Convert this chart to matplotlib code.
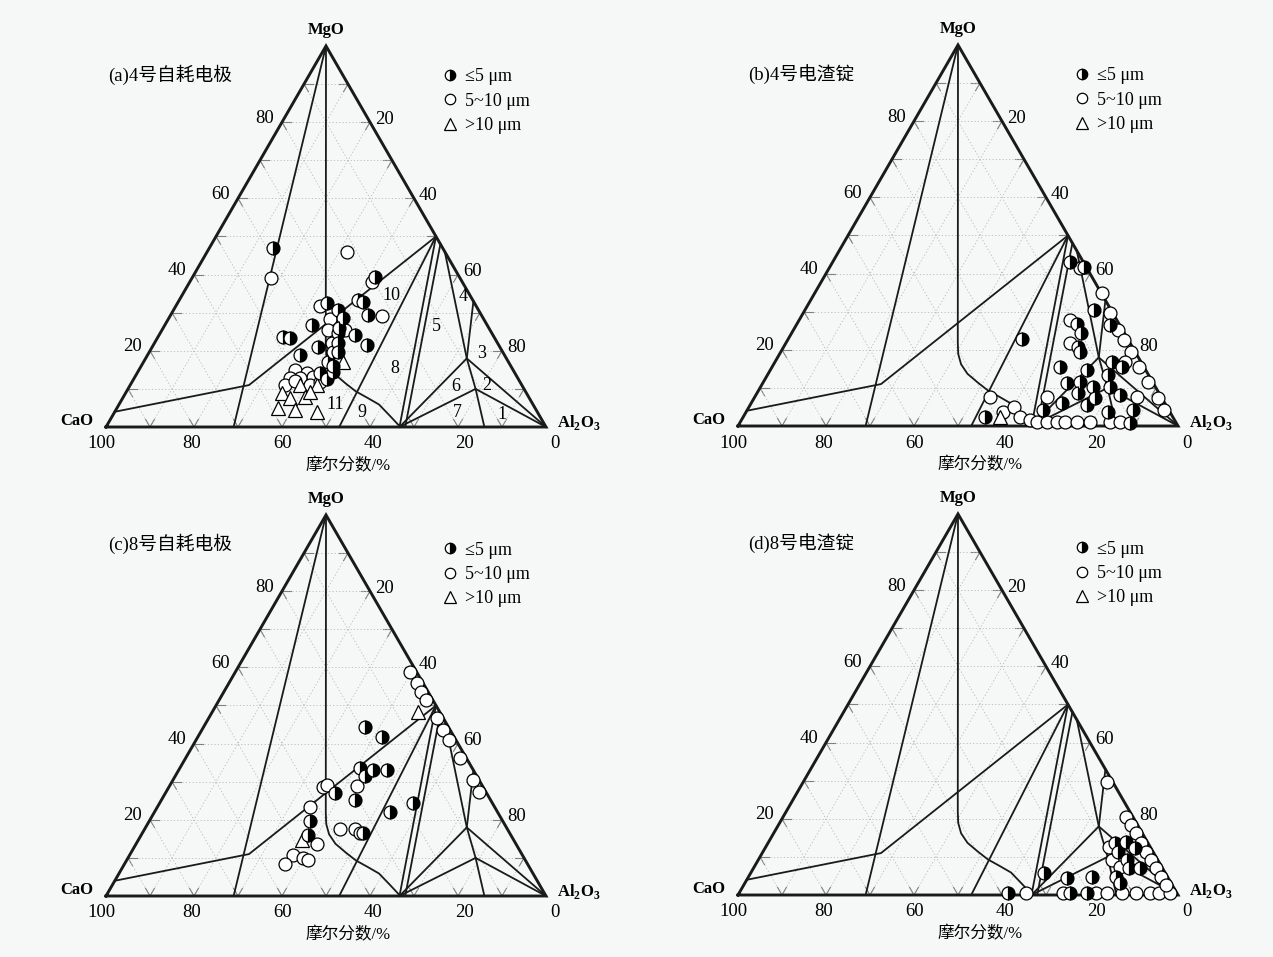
import numpy as np
import matplotlib
matplotlib.use("Agg")
import matplotlib.pyplot as plt
from matplotlib.lines import Line2D

plt.rcParams['font.family'] = ['Liberation Serif', 'Noto Sans CJK SC']
plt.rcParams['mathtext.fontset'] = 'custom'
plt.rcParams['mathtext.rm'] = 'Liberation Serif'
plt.rcParams['mathtext.bf'] = 'Liberation Serif:bold'

# ---- data: points are (MgO mol%, Al2O3 mol%), CaO = rest ----
a_half = [(46.9, 14.6), (39.4, 41.4), (32.6, 33.9), (33.3, 40.7), (32.9, 42.0),
          (30.7, 37.4), (28.5, 39.7), (24.1, 44.5), (29.4, 44.9), (26.8, 33.4),
          (23.7, 28.4), (23.3, 30.2), (21.5, 48.5), (21.1, 37.7), (19.8, 41.8),
          (18.9, 34.6), (17.1, 42.0), (14.5, 44.4), (14.1, 41.6), (24.6, 40.5),
          (22.0, 41.7), (19.7, 42.9), (26.0, 40.0), (16.0, 43.5), (12.5, 44.0)]
a_open = [(46.0, 31.7), (38.1, 41.3), (39.0, 17.9), (31.8, 32.7), (28.3, 36.8),
          (25.5, 41.6), (29.1, 48.1), (25.5, 37.8), (22.0, 40.3), (15.0, 35.5),
          (14.2, 38.6), (13.1, 40.4), (12.9, 37.7), (12.9, 35.4), (11.0, 35.2),
          (11.0, 40.9), (11.8, 42.7), (12.1, 37.0)]
a_tri = [(17.1, 45.3), (11.0, 42.4), (11.0, 38.6), (8.8, 35.5), (7.6, 38.0),
         (7.9, 41.3), (4.9, 36.7), (4.5, 40.8), (4.0, 45.9), (9.2, 41.8)]

b_half = [(43.1, 53.9), (41.6, 57.8), (30.4, 65.6), (22.8, 53.1), (26.7, 63.7),
          (24.3, 65.9), (20.8, 66.9), (19.5, 68.0), (26.5, 71.3), (15.6, 65.4),
          (14.7, 71.9), (16.9, 76.5), (15.6, 79.4), (13.4, 77.5), (11.2, 69.1),
          (11.6, 71.9), (10.3, 75.6), (8.6, 73.0), (6.0, 70.6), (5.5, 76.5),
          (7.3, 77.5), (8.1, 82.7), (4.2, 87.7), (3.8, 82.3), (4.2, 67.3),
          (2.4, 54.9), (0.7, 88.7), (10.3, 79.4)]
b_open = [(41.4, 57.0), (34.8, 65.3), (29.6, 69.7), (25.2, 73.8), (22.6, 76.4),
          (19.5, 79.5), (15.6, 83.4), (11.6, 87.4), (7.3, 91.7), (4.2, 94.8),
          (27.8, 61.6), (21.7, 64.6), (16.9, 79.6), (7.7, 86.8), (7.7, 53.4),
          (7.7, 66.3), (3.8, 58.4), (5.1, 60.1), (2.4, 62.9), (1.6, 65.6),
          (1.1, 67.3), (1.1, 69.6), (1.1, 71.9), (1.1, 73.8), (1.1, 76.4),
          (1.1, 79.4), (1.1, 84.0), (1.1, 86.2)]
b_tri = [(2.4, 58.3)]

c_half = [(44.3, 36.8), (41.6, 41.9), (33.5, 41.0), (33.1, 44.2), (33.1, 47.3),
          (31.5, 43.1), (26.9, 38.6), (25.2, 44.0), (22.1, 53.5), (24.3, 57.7),
          (19.7, 36.4), (16.0, 38.0), (16.6, 50.2)]
c_open = [(28.7, 35.0), (29.2, 35.6), (28.9, 42.6), (23.4, 34.7), (17.5, 44.4),
          (17.5, 47.8), (16.5, 49.5), (13.6, 41.1), (10.8, 37.2), (9.9, 39.9),
          (8.4, 36.5), (9.4, 41.3), (58.9, 39.6), (55.8, 42.7), (53.6, 44.9),
          (51.4, 47.1), (46.6, 51.9), (43.6, 54.9), (40.9, 57.6), (36.1, 62.4),
          (30.4, 68.1), (27.4, 71.1)]
c_tri = [(48.4, 46.8), (14.7, 37.1)]

d_half = [(5.7, 66.8), (4.4, 72.5), (4.8, 78.1), (0.5, 61.1), (0.5, 75.2),
          (13.6, 78.8), (14.0, 81.1), (12.3, 84.0), (11.4, 80.7), (9.2, 83.9),
          (7.0, 87.9), (4.8, 83.6), (7.0, 85.4), (3.1, 85.3), (0.5, 79.0)]
d_open = [(0.5, 65.2), (0.5, 73.6), (0.5, 81.1), (0.5, 83.6), (0.5, 87.0),
          (0.5, 90.3), (0.5, 93.3), (0.5, 95.4), (0.5, 97.9), (29.7, 69.0),
          (9.2, 80.5), (7.4, 83.1), (12.7, 78.0), (20.5, 78.0), (18.4, 80.1),
          (16.2, 82.3), (13.6, 84.9), (11.4, 87.1), (9.2, 89.3), (7.0, 91.5),
          (4.8, 93.7), (2.6, 95.9)]
d_tri = []

# phase boundary lines (MgO, Al2O3)
bd_apex = [(100, 0), (0, 29)]
bd_left = [(4, 0), (11, 27), (50, 50)]
bd_curve = [(100, 0), (21.9, 39.0), (18.9, 40.6), (16.2, 42.6), (13.7, 45.3),
            (11.4, 48.8), (9.35, 52.1), (7.6, 55.7), (5.9, 59.1), (2.9, 63.1), (0, 66.9)]
bd_b9 = [(0, 53), (50, 50)]
bd_ca2_s = [(0, 66.7), (50, 50)]
bd_ca2_s2 = [(0, 68), (48, 52)]
bd_s2_ca6 = [(46, 54), (18, 73), (10, 79), (0, 86)]
bd_t_q = [(33, 67), (18, 73)]
bd_q_al = [(18, 73), (0, 100)]
bd_q_ca2 = [(18, 73), (0, 66.7)]
bd_r_ca2 = [(10, 79), (0, 66.7)]
bd_r_al = [(10, 79), (0, 100)]
boundaries = [bd_apex, bd_left, bd_curve, bd_b9, bd_ca2_s, bd_ca2_s2,
              bd_s2_ca6, bd_t_q, bd_q_al, bd_q_ca2, bd_r_ca2, bd_r_al]

region_pos = [(3.2, 88.3), (11.0, 81.0), (19.3, 75.7), (34.2, 64.1), (26.3, 62.0),
              (10.6, 74.2), (3.8, 78.0), (15.4, 58.0), (3.8, 56.2), (34.4, 47.7),
              (5.8, 49.1)]
region_txt = ['1', '2', '3', '4', '5', '6', '7', '8', '9', '10', '11']

bottom_ticks = [100, 80, 60, 40, 20, 0]     # CaO
side_ticks = [20, 40, 60, 80]

titles = ['(a)4号自耗电极', '(b)4号电渣锭', '(c)8号自耗电极', '(d)8号电渣锭']
legend_labels = ['≤5 μm', '5~10 μm', '>10 μm']

SQ = np.sqrt(3) / 2


def tern(pts):
    p = np.asarray(pts, dtype=float).reshape(-1, 2) / 100.0
    return p[:, 1] + p[:, 0] / 2, p[:, 0] * SQ


FW, FH = 1273, 957
S = 440.0
XL = (-0.16, 1.2)
YL = (-0.12, 0.96)

fig = plt.figure(figsize=(FW / 100, FH / 100), dpi=100, facecolor='#f6f7f7')

half_kw = dict(ls='none', marker='o', ms=9.3, fillstyle='right', mfc='black',
               mfcalt='white', mec='black', mew=0.9)
open_kw = dict(ls='none', marker='o', ms=9.3, mfc='white', mec='black', mew=0.9)
tri_kw = dict(ls='none', marker='^', ms=10.5, mfc='white', mec='black', mew=0.9)

panels = [
    (106, 427, a_half, a_open, a_tri),
    (738, 426, b_half, b_open, b_tri),
    (106, 896, c_half, c_open, c_tri),
    (738, 895, d_half, d_open, d_tri),
]

TK = 13.5

for i, (x0, y0, ph, po, pt) in enumerate(panels):
    left = (x0 + XL[0] * S) / FW
    bottom = 1 - (y0 - YL[0] * S) / FH
    ax = fig.add_axes([left, bottom, (XL[1] - XL[0]) * S / FW, (YL[1] - YL[0]) * S / FH])
    ax.set_xlim(XL)
    ax.set_ylim(YL)
    ax.axis('off')
    px = 1 / S

    # dotted grid
    for k in range(10, 100, 10):
        for seg in ([(k, 0), (k, 100 - k)], [(0, k), (100 - k, k)], [(0, 100 - k), (100 - k, 0)]):
            gx, gy = tern(seg)
            ax.plot(gx, gy, color='#b8b8b8', lw=0.6, ls=(0, (1.5, 2.5)), zorder=1)
        # edge ticks
        for base, d1, d2 in (((k, 0), (0, 2), (-2, 2)),
                             ((0, 100 - k), (2, 0), (2, -2)),
                             ((100 - k, k), (0, -2), (-2, 0))):
            for d in (d1, d2):
                tx, ty = tern([base, (base[0] + d[0], base[1] + d[1])])
                ax.plot(tx, ty, color='#808080', lw=0.8, zorder=1)

    # triangle frame
    fx, fy = tern([(0, 0), (0, 100), (100, 0), (0, 0)])
    ax.plot(fx, fy, color='#1a1a1a', lw=2.1, zorder=3, solid_joinstyle='miter')

    for bd in boundaries:
        bx, by = tern(bd)
        ax.plot(bx, by, color='#1a1a1a', lw=1.3, zorder=2)

    # tick labels
    for c in bottom_ticks:
        xx = 1 - c / 100
        ax.text(xx + (-5 + 14 * xx) * px, -17 * px, str(c), ha='center', va='center',
                fontsize=TK)
    for k in side_ticks:
        lx, ly = tern([(k, 0)])
        ax.text(lx[0] - 8 * px, ly[0] + 4 * px, str(k), ha='right', va='center', fontsize=TK)
        rx, ry = tern([(100 - k, k)])
        ax.text(rx[0] + 5 * px, ry[0] + 3 * px, str(k), ha='left', va='center', fontsize=TK)

    # vertex labels
    ax.text(0.5, SQ + 16 * px, 'MgO', ha='center', va='center', fontsize=12, weight='bold')
    ax.text(-13 * px, 6 * px, 'CaO', ha='right', va='center', fontsize=12, weight='bold')
    ax.text(1 + 11 * px, 4 * px, r'Al$_\mathbf{2}$O$_\mathbf{3}$', ha='left',
            va='center', fontsize=12, weight='bold')

    ax.text(0.005 + (0.018 if i % 2 else 0), 0.80, titles[i], ha='left', va='center',
            fontsize=13.5)
    ax.text(0.55, -39 * px, '摩尔分数/%', ha='center', va='center', fontsize=12)

    # data
    if ph:
        hx, hy = tern(ph)
        ax.plot(hx, hy, zorder=5, **half_kw)
    if po:
        ox, oy = tern(po)
        ax.plot(ox, oy, zorder=4, **open_kw)
    if pt:
        tx, ty = tern(pt)
        ax.plot(tx, ty, zorder=4, **tri_kw)

    if i == 0:
        for pos, t in zip(region_pos, region_txt):
            rx, ry = tern([pos])
            ax.text(rx[0], ry[0], t, ha='center', va='center', fontsize=13, zorder=6)

    handles = [Line2D([], [], **{**half_kw, 'ms': 7.5}),
               Line2D([], [], **{**open_kw, 'ms': 7.5}),
               Line2D([], [], **{**tri_kw, 'ms': 8.5})]
    top = 0.815 if i < 2 else 0.805
    ax.legend(handles, legend_labels, loc='upper left', bbox_to_anchor=(0.765, top),
              bbox_transform=ax.transData, frameon=False, fontsize=13,
              handlelength=0.8, handletextpad=0.45, labelspacing=0.4,
              borderpad=0, borderaxespad=0)

fig.savefig('out.png', dpi=100, facecolor=fig.get_facecolor())
